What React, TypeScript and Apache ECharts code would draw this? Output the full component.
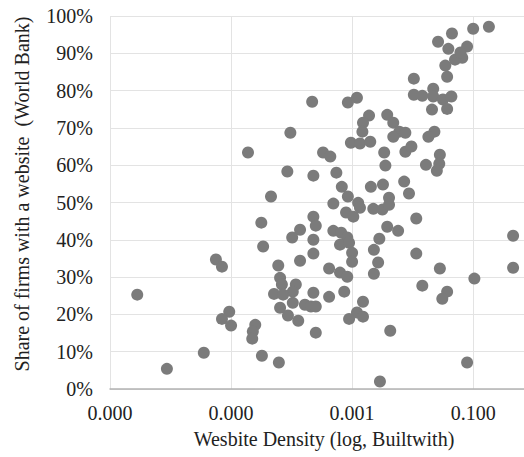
import React, { useEffect, useRef } from "react";
import * as echarts from "echarts";

// log10 of website density (Builtwith)
const densityLog10: number[] = [
  -0.74, -1.0, -1.35, -1.58, -1.41, -1.1, -1.18, -1.3, -1.21, -1.46,
  -1.43, -1.98, -1.98, -1.84, -1.66, -1.66, -1.5, -1.36, -1.68, -1.43,
  -1.64, -1.74, -2.12, -2.02, -1.55, -1.56, -1.6, -1.78, -2.14, -2.06,
  -3.66, -3.07, -2.92, -2.72, -2.82, -2.83, -3.02, -2.87, -2.7, -2.42,
  -2.32, -2.22, -2.12, -2.32, -4.02, -4.72, -3.48, -3.36, -2.47, -2.45,
  -4.07, -3.64, -3.26, -4.34, -3.17, -2.69, -2.49, -2.39, -3.31, -3.07,
  -2.9, -3.1, -2.98, -2.65, -2.5, -2.39, -1.94, -4.5, -3.64, -3.6,
  -3.86, -3.99, -3.64, -3.31, -3.18, -3.08, -3.2, -3.05, -3.0, -3.0,
  -2.42, -2.24, -2.55, -2.64, -2.57, -2.64, -4.47, -4.22, -3.86, -3.64,
  -3.38, -3.2, -3.08, -4.19, -4.16, -3.93, -3.98, -4.29, -4.14, -3.64,
  -3.38, -3.13, -3.98, -4.19, -3.78, -3.68, -3.6, -2.82, -2.92, -3.05,
  -2.82, -4.06, -3.89, -3.6, -2.37, -4.6, -4.64, -4.65, -4.49, -4.21,
  -2.54, -1.94, -0.34, -0.34, -0.98, -1.55, -1.84, -1.43, -1.51, -1.1,
  -5.25, -5.15, -6.55, -5.03, -5.15, -5.0, -5.45, -6.06, -2.87,
];

// share of firms with a website (%), World Bank
const shareWithWebsite: number[] = [
  97.1, 96.6, 95.3, 93.1, 91.2, 91.8, 88.8, 88.3, 90.2, 86.7,
  83.7, 83.2, 78.9, 78.6, 80.5, 78.4, 77.6, 78.4, 74.9, 75.1,
  69.0, 67.6, 63.6, 65.0, 62.8, 60.4, 58.5, 60.1, 55.6, 52.4,
  77.0, 76.8, 78.1, 73.3, 71.4, 69.0, 66.0, 65.8, 66.3, 73.5,
  71.4, 69.0, 68.7, 67.6, 68.7, 63.4, 63.4, 62.3, 63.4, 59.9,
  58.3, 57.2, 58.0, 51.6, 54.2, 54.2, 54.8, 51.3, 49.7, 51.6,
  49.9, 47.3, 46.2, 48.3, 48.1, 49.4, 45.7, 44.6, 46.2, 43.8,
  42.7, 40.6, 40.0, 42.4, 41.9, 40.6, 38.7, 39.2, 36.5, 34.1,
  43.5, 42.4, 40.3, 37.3, 33.9, 30.9, 38.2, 33.1, 34.4, 36.3,
  32.3, 31.2, 30.1, 29.8, 28.0, 28.0, 26.1, 25.5, 25.3, 25.8,
  24.7, 26.1, 23.1, 21.8, 22.6, 22.1, 22.1, 23.4, 20.5, 18.8,
  19.4, 19.7, 18.3, 15.1, 15.6, 17.2, 15.4, 13.5, 8.9, 7.1,
  2.0, 36.3, 41.1, 32.5, 29.6, 32.3, 27.7, 26.1, 24.2, 7.1,
  34.7, 32.8, 25.3, 20.7, 18.8, 17.0, 9.7, 5.4, 48.6,
];

const xTitle = "Wesbite Density (log, Builtwith)";
const yTitle = "Share of firms with a website  (World Bank)";
const LOG_OFFSET = 7; // axis value = log10(density) + 7, so the axis starts at 1e-7
const X_MAX = 6.84; // right edge of the (cropped) plot, in decades above 1e-7

const FONT = "'Liberation Serif', 'Times New Roman', serif";

export default function App() {
  const ref = useRef<HTMLDivElement>(null);
  useEffect(() => {
    if (!ref.current) return;
    const chart = echarts.init(ref.current, undefined, { renderer: "svg" });
    const points = densityLog10.map((d, i) => [d + LOG_OFFSET, shareWithWebsite[i]]);
    chart.setOption({
      animation: false,
      backgroundColor: "#ffffff",
      grid: { left: 110, right: 0, top: 16, bottom: 68, containLabel: false },
      xAxis: {
        type: "value",
        min: 0,
        max: X_MAX,
        interval: 2,
        axisLine: { show: true, lineStyle: { color: "#b3b3b3", width: 1.5 } },
        axisTick: { show: false },
        splitLine: {
          show: true,
          showMaxLine: false,
          lineStyle: { color: "#e3e3e3", width: 1 },
        },
        axisLabel: {
          margin: 14,
          fontFamily: FONT,
          fontSize: 20,
          color: "#222",
          showMaxLabel: false,
          formatter: (v: number) =>
            Math.abs(v - Math.round(v)) < 1e-6 ? Math.pow(10, v - LOG_OFFSET).toFixed(3) : "",
        },
      },
      yAxis: {
        type: "value",
        min: 0,
        max: 100,
        interval: 10,
        axisLine: { show: false },
        axisTick: { show: false },
        splitLine: { show: true, lineStyle: { color: "#e3e3e3", width: 1 } },
        axisLabel: {
          margin: 17,
          fontFamily: FONT,
          fontSize: 20,
          color: "#222",
          formatter: (v: number) => `${v}%`,
        },
      },
      graphic: [
        {
          type: "text",
          x: 324,
          y: 439,
          style: {
            text: xTitle,
            fontFamily: FONT,
            fontSize: 20,
            fill: "#222",
            textAlign: "center",
            textVerticalAlign: "middle",
          },
        },
        {
          type: "text",
          x: 22,
          y: 194,
          rotation: Math.PI / 2,
          style: {
            text: yTitle,
            fontFamily: FONT,
            fontSize: 20,
            fill: "#222",
            textAlign: "center",
            textVerticalAlign: "middle",
          },
        },
      ],
      series: [
        {
          type: "scatter",
          data: points,
          symbol: "circle",
          symbolSize: 12,
          itemStyle: { color: "#7b7b7b", opacity: 1 },
        },
      ],
    });
    return () => chart.dispose();
  }, []);
  return (
    <div
      ref={ref}
      style={{ position: "fixed", left: 0, top: 0, width: 524, height: 457, background: "#fff" }}
    />
  );
}
